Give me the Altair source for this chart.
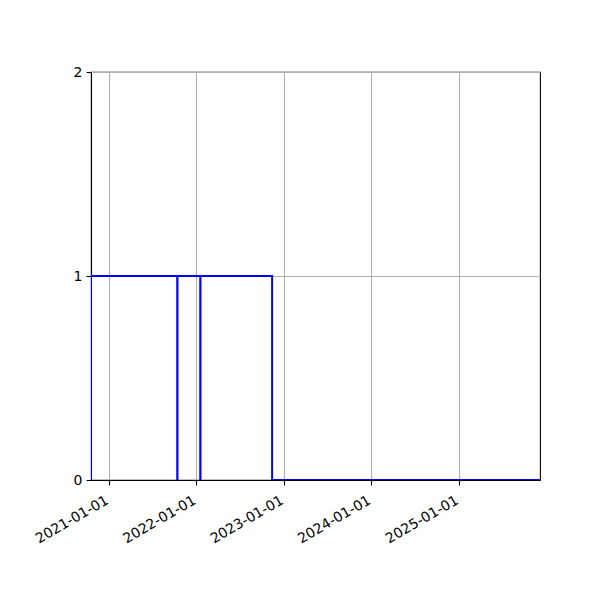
import altair as alt
import pandas as pd

dates = ["2020-10-18", "2020-10-18", "2021-10-13", "2021-10-14",
         "2022-01-17", "2022-01-18", "2022-11-13", "2025-12-05"]
values = [0, 1, 0, 1, 0, 1, 0, 0]
tick_years = [2021, 2022, 2023, 2024, 2025]

df = pd.DataFrame({"date": dates, "value": values, "idx": list(range(len(dates)))})

x_ticks = [alt.DateTime(year=y, month=1, date=1, utc=True) for y in tick_years]

common = dict(
    grid=True, gridColor="#b0b0b0", gridWidth=1.1,
    domainColor="black", domainWidth=1.1, tickColor="black", tickSize=5, tickWidth=1.1,
    labelFont="DejaVu Sans", labelFontSize=14, labelColor="black",
)

chart = alt.Chart(df).mark_line(
    interpolate="step-after", color="#0000ff", strokeWidth=2, clip=True
).encode(
    x=alt.X(
        "date:T",
        scale=alt.Scale(
            type="utc",
            domain=[alt.DateTime(year=2020, month=10, date=18, utc=True),
                    alt.DateTime(year=2025, month=12, date=5, utc=True)],
            nice=False,
        ),
        axis=alt.Axis(
            title=None, values=x_ticks, format="%Y-%m-%d", labelAngle=-30,
            labelAlign="right", labelBaseline="middle", labelPadding=14,
            labelOffset=-2, labelOverlap=False, **common,
        ),
    ),
    y=alt.Y(
        "value:Q",
        scale=alt.Scale(domain=[0, 2], nice=False, zero=False),
        axis=alt.Axis(
            title=None, tickCount=2, format="d", labelPadding=4,
            labelOverlap=False, **common,
        ),
    ),
    order="idx:Q",
).properties(
    width=449, height=408,
    autosize=alt.AutoSizeParams(type="none"),
    padding={"left": 83, "top": 64, "right": 50, "bottom": 100},
).configure_view(stroke="black", strokeWidth=1.1)

chart.save("out.html", embed_options={"renderer": "svg", "actions": False})
